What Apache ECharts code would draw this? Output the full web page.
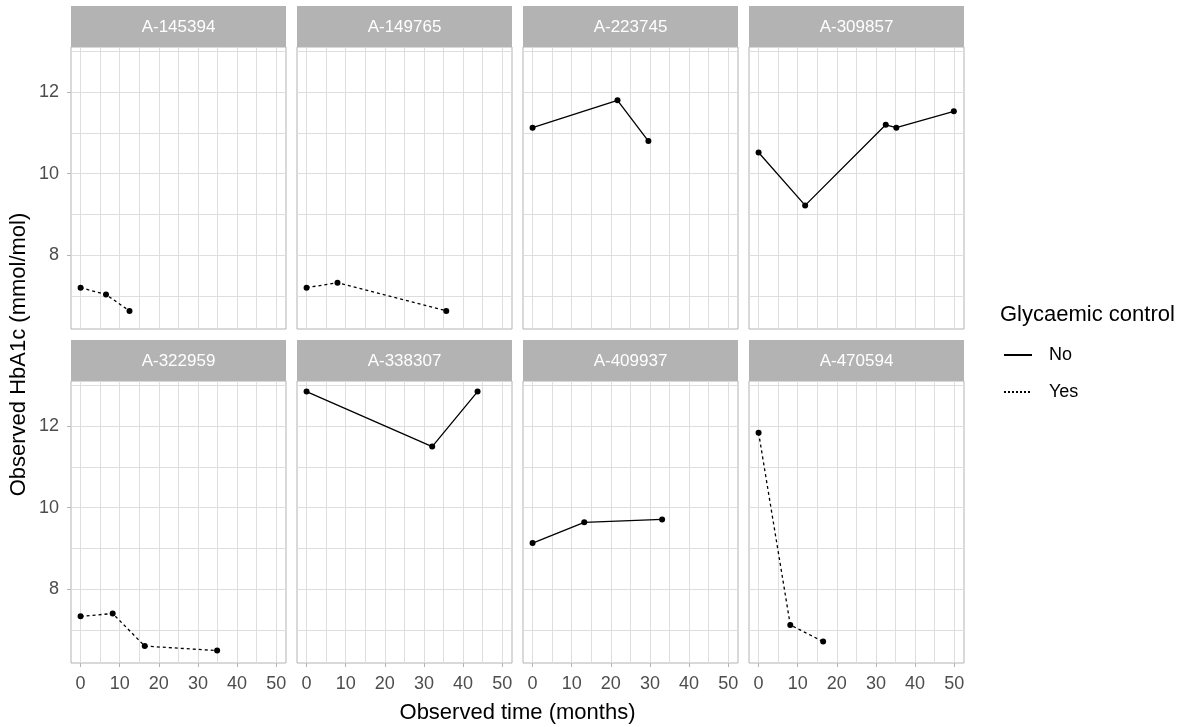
<!DOCTYPE html>
<html>
<head>
<meta charset="utf-8">
<title>Observed HbA1c by patient</title>
<script src="https://cdn.jsdelivr.net/npm/echarts@6/dist/echarts.min.js"></script>
<style>
  html, body { margin: 0; padding: 0; background: #ffffff; }
  #chart { width: 1187px; height: 727px; }
</style>
</head>
<body>
<div id="chart"></div>
<script>
// Patient panels, in facet order
const patientIds = ['A-145394', 'A-149765', 'A-223745', 'A-309857',
                    'A-322959', 'A-338307', 'A-409937', 'A-470594'];
// Glycaemic control per patient
const glycaemicControl = ['Yes', 'Yes', 'No', 'No', 'Yes', 'No', 'No', 'Yes'];

// Observed time (months) and HbA1c per patient
const months145394 = [0, 6.5, 12.5];
const hba1c145394  = [7.2, 7.03, 6.63];
const months149765 = [0, 7.9, 35.7];
const hba1c149765  = [7.2, 7.32, 6.63];
const months223745 = [0, 21.7, 29.6];
const hba1c223745  = [11.13, 11.8, 10.8];
const months309857 = [0, 11.9, 32.5, 35.2, 49.9];
const hba1c309857  = [10.52, 9.22, 11.2, 11.13, 11.53];
const months322959 = [0, 8.2, 16.4, 34.9];
const hba1c322959  = [7.33, 7.4, 6.6, 6.49];
const months338307 = [0, 32.1, 43.7];
const hba1c338307  = [12.85, 11.5, 12.85];
const months409937 = [0, 13.2, 33.1];
const hba1c409937  = [9.13, 9.64, 9.71];
const months470594 = [0, 8.1, 16.5];
const hba1c470594  = [11.84, 7.12, 6.71];

// Axis breaks
const xTickLabels = [0, 10, 20, 30, 40, 50];
const xGridBreaks = [0, 5, 10, 15, 20, 25, 30, 35, 40, 45, 50];
const yTickLabels = [8, 10, 12];
const yGridBreaks = [7, 8, 9, 10, 11, 12, 13];

const monthsByPatient = [months145394, months149765, months223745, months309857,
                         months322959, months338307, months409937, months470594];
const hba1cByPatient  = [hba1c145394, hba1c149765, hba1c223745, hba1c309857,
                         hba1c322959, hba1c338307, hba1c409937, hba1c470594];

// Facet layout (pixels)
const colLeft = [71, 297, 523, 749];
const rowTop = [47, 381];
const panelW = 215;
const panelH = 282;
const stripH = 41;

// Shared scale limits (data range plus 5% padding)
const xMin = -2.45, xMax = 52.5;
const yMin = 6.185, yMax = 13.11;

const FONT = "'Liberation Sans', Arial, sans-serif";
const gridColor = '#dedede';
const frameColor = '#b3b3b3';
const dotted = [3, 3];

const grids = [], xAxes = [], yAxes = [], series = [], graphics = [];

patientIds.forEach((id, i) => {
  const col = i % 4, row = Math.floor(i / 4);
  const left = colLeft[col], top = rowTop[row];
  const bottomRow = row === 1, leftCol = col === 0;

  grids.push({
    left: left, top: top, width: panelW, height: panelH,
    show: true, backgroundColor: '#ffffff',
    borderColor: frameColor, borderWidth: 1
  });

  // grid-line axes (major and minor breaks)
  xAxes.push({
    gridIndex: i, type: 'value', min: xMin, max: xMax,
    axisLine: { show: false, onZero: false },
    axisTick: { show: false, customValues: xGridBreaks },
    axisLabel: { show: false },
    splitLine: { show: true, lineStyle: { color: gridColor, width: 1 } }
  });
  yAxes.push({
    gridIndex: i, type: 'value', min: yMin, max: yMax,
    axisLine: { show: false, onZero: false },
    axisTick: { show: false, customValues: yGridBreaks },
    axisLabel: { show: false },
    splitLine: { show: true, lineStyle: { color: gridColor, width: 1 } }
  });
  // labelled axes (outer panels only)
  xAxes.push({
    gridIndex: i, type: 'value', min: xMin, max: xMax, position: 'bottom',
    axisLine: { show: false, onZero: false },
    axisTick: { show: bottomRow, customValues: xTickLabels, length: 4,
                lineStyle: { color: frameColor, width: 1 } },
    axisLabel: { show: bottomRow, customValues: xTickLabels, margin: 12,
                 color: '#4d4d4d', fontSize: 18, fontFamily: FONT },
    splitLine: { show: false }
  });
  yAxes.push({
    gridIndex: i, type: 'value', min: yMin, max: yMax, position: 'left',
    axisLine: { show: false, onZero: false },
    axisTick: { show: leftCol, customValues: yTickLabels, length: 4,
                lineStyle: { color: frameColor, width: 1 } },
    axisLabel: { show: leftCol, customValues: yTickLabels, margin: 12,
                 color: '#4d4d4d', fontSize: 18, fontFamily: FONT },
    splitLine: { show: false }
  });

  const months = monthsByPatient[i];
  const values = hba1cByPatient[i];
  series.push({
    name: id,
    type: 'line',
    xAxisIndex: 2 * i, yAxisIndex: 2 * i,
    data: months.map((m, k) => [m, values[k]]),
    symbol: 'circle', symbolSize: 6,
    itemStyle: { color: '#000000' },
    lineStyle: { color: '#000000', width: 1.3,
                 type: glycaemicControl[i] === 'Yes' ? dotted : 'solid' },
    silent: true, z: 3
  });

  // facet strip
  graphics.push({
    type: 'rect',
    shape: { x: left, y: top - stripH, width: panelW, height: stripH },
    style: { fill: frameColor }
  });
  graphics.push({
    type: 'text',
    style: { text: id, x: left + panelW / 2, y: top - stripH / 2 + 1,
             align: 'center', verticalAlign: 'middle',
             fill: '#ffffff', font: '17px ' + FONT }
  });
});

// legend keys
series.push({
  name: 'No', type: 'line', xAxisIndex: 0, yAxisIndex: 0, data: [],
  symbol: 'none', itemStyle: { color: '#000000' },
  lineStyle: { color: '#000000', width: 1.3, type: 'solid' }
});
series.push({
  name: 'Yes', type: 'line', xAxisIndex: 0, yAxisIndex: 0, data: [],
  symbol: 'none', itemStyle: { color: '#000000' },
  lineStyle: { color: '#000000', width: 1.3, type: [2, 2] }
});

// axis titles
graphics.push({
  type: 'text',
  style: { text: 'Observed time (months)', x: 517.5, y: 713,
           align: 'center', verticalAlign: 'middle',
           fill: '#000000', font: '22px ' + FONT }
});
graphics.push({
  type: 'text', rotation: Math.PI / 2, x: 19, y: 354.5,
  style: { text: 'Observed HbA1c (mmol/mol)', x: 0, y: 0,
           align: 'center', verticalAlign: 'middle',
           fill: '#000000', font: '22px ' + FONT }
});
graphics.push({
  type: 'text',
  style: { text: 'Glycaemic control', x: 1000, y: 315,
           align: 'left', verticalAlign: 'middle',
           fill: '#000000', font: '22px ' + FONT }
});

const chart = echarts.init(document.getElementById('chart'), null, { renderer: 'canvas' });
chart.setOption({
  animation: false,
  backgroundColor: '#ffffff',
  grid: grids,
  xAxis: xAxes,
  yAxis: yAxes,
  series: series,
  legend: {
    data: ['No', 'Yes'],
    orient: 'vertical',
    left: 1003, top: 346, padding: 0,
    itemWidth: 28, itemHeight: 18, itemGap: 19,
    selectedMode: false,
    itemStyle: { opacity: 0 },
    textStyle: { color: '#000000', fontSize: 18, fontFamily: FONT,
                 padding: [0, 0, 0, 12] }
  },
  graphic: graphics
});
</script>
</body>
</html>
